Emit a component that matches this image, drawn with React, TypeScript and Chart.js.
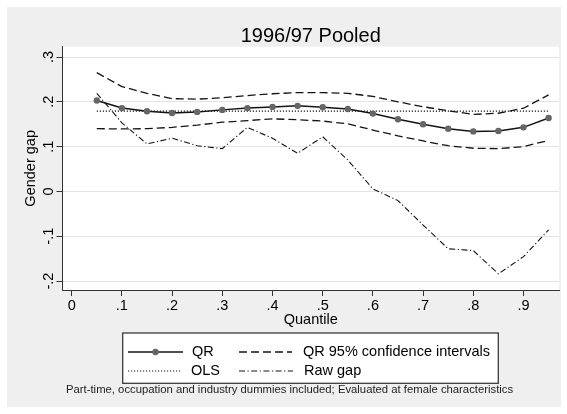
import React, { useEffect, useRef } from "react";
import { Chart, registerables } from "chart.js";

Chart.register(...registerables);

// ---- data ----
const quantiles = [0.05, 0.1, 0.15, 0.2, 0.25, 0.3, 0.35, 0.4, 0.45, 0.5, 0.55, 0.6, 0.65, 0.7, 0.75, 0.8, 0.85, 0.9, 0.95];
const qrGap = [0.203, 0.186, 0.179, 0.175, 0.1775, 0.182, 0.186, 0.1886, 0.191, 0.188, 0.184, 0.1737, 0.161, 0.15, 0.14, 0.134, 0.135, 0.143, 0.164];
const ciUpper = [0.265, 0.234, 0.219, 0.207, 0.206, 0.209, 0.214, 0.218, 0.2205, 0.2205, 0.219, 0.212, 0.2, 0.189, 0.18, 0.172, 0.1745, 0.1857, 0.2154];
const ciLower = [0.14, 0.1395, 0.14, 0.143, 0.148, 0.1545, 0.158, 0.162, 0.16, 0.157, 0.151, 0.137, 0.124, 0.1127, 0.102, 0.0964, 0.0955, 0.1, 0.114];
const olsGap = [0.179, 0.179, 0.179, 0.179, 0.179, 0.179, 0.179, 0.179, 0.179, 0.179, 0.179, 0.179, 0.179, 0.179, 0.179, 0.179, 0.179, 0.179, 0.179];
const rawGap = [0.219, 0.153, 0.106, 0.1187, 0.102, 0.0955, 0.143, 0.1187, 0.085, 0.122, 0.0703, 0.0056, -0.0205, -0.075, -0.128, -0.132, -0.184, -0.1455, -0.086];

const xTickValues = [0, 0.1, 0.2, 0.3, 0.4, 0.5, 0.6, 0.7, 0.8, 0.9];
const yTickValues = [-0.2, -0.1, 0, 0.1, 0.2, 0.3];

const titleText = "1996/97 Pooled";
const xTitle = "Quantile";
const yTitle = "Gender gap";
const noteText = "Part-time, occupation and industry dummies included; Evaluated at female characteristics";
const legendLabels = ["QR", "QR 95% confidence intervals", "OLS", "Raw gap"];

const FONT = "'Liberation Sans', Arial, Helvetica, sans-serif";
const LINE = "#141414";
const MARK = "#666666";
const CI_DASH = [8, 4];
const OLS_DASH = [1.2, 1.8];
const RAW_DASH = [6, 2.5, 1.2, 2.5];

const fmt = (v: number) => {
  if (Math.abs(v) < 1e-9) return "0";
  return v.toFixed(1).replace("0.", ".");
};

const pts = (ys: number[]) => quantiles.map((q, i) => ({ x: q, y: ys[i] }));

const decorPlugin = {
  id: "decor",
  beforeDraw(chart: any) {
    const { ctx, chartArea } = chart;
    ctx.save();
    ctx.fillStyle = "#ffffff";
    ctx.fillRect(0, 0, chart.width, chart.height);
    ctx.fillStyle = "#efefef";
    ctx.fillRect(7, 7, 554, 400);
    ctx.fillStyle = "#ffffff";
    ctx.fillRect(chartArea.left, chartArea.top, chartArea.right - chartArea.left, chartArea.bottom - chartArea.top);
    ctx.restore();
  },
  afterDraw(chart: any) {
    const { ctx, chartArea } = chart;
    const yScale = chart.scales.y;
    const cx = (chartArea.left + chartArea.right) / 2;
    ctx.save();
    ctx.fillStyle = "#000";

    // title
    ctx.font = `20px ${FONT}`;
    ctx.textAlign = "center";
    ctx.textBaseline = "middle";
    ctx.fillText(titleText, cx, 36);

    // y tick labels (rotated)
    ctx.font = `14.5px ${FONT}`;
    yScale.ticks.forEach((t: any) => {
      const py = yScale.getPixelForValue(t.value);
      ctx.save();
      ctx.translate(53, py);
      ctx.rotate(-Math.PI / 2);
      ctx.textAlign = "center";
      ctx.textBaseline = "alphabetic";
      ctx.fillText(fmt(t.value), 0, 0);
      ctx.restore();
    });

    // y title
    ctx.save();
    ctx.translate(35, (chartArea.top + chartArea.bottom) / 2);
    ctx.rotate(-Math.PI / 2);
    ctx.textAlign = "center";
    ctx.textBaseline = "alphabetic";
    ctx.fillText(yTitle, 0, 0);
    ctx.restore();

    // x title
    ctx.textAlign = "center";
    ctx.textBaseline = "middle";
    ctx.fillText(xTitle, cx, 320);

    // legend box
    const lx = 122.7, ly = 333, lw = 375.6, lh = 50.3;
    ctx.fillStyle = "#ffffff";
    ctx.fillRect(lx, ly, lw, lh);
    ctx.strokeStyle = "#3a3a3a";
    ctx.lineWidth = 1.3;
    ctx.setLineDash([]);
    ctx.strokeRect(lx, ly, lw, lh);

    const sample = (x1: number, x2: number, y: number, dash: number[], width: number) => {
      ctx.save();
      ctx.strokeStyle = LINE;
      ctx.lineWidth = width;
      ctx.setLineDash(dash);
      ctx.beginPath();
      ctx.moveTo(x1, y);
      ctx.lineTo(x2, y);
      ctx.stroke();
      ctx.restore();
    };
    const r1 = 352, r2 = 371;
    sample(128, 183, r1, [], 1.5);
    ctx.fillStyle = MARK;
    ctx.beginPath();
    ctx.arc(155.5, r1, 3.2, 0, Math.PI * 2);
    ctx.fill();
    sample(239, 292, r1, CI_DASH, 1.3);
    sample(128, 182, r2, OLS_DASH, 1.2);
    sample(239, 293, r2, RAW_DASH, 1.1);

    ctx.fillStyle = "#000";
    ctx.font = `14.5px ${FONT}`;
    ctx.textAlign = "left";
    ctx.textBaseline = "middle";
    ctx.fillText(legendLabels[0], 192, r1);
    ctx.fillText(legendLabels[1], 303, r1);
    ctx.fillText(legendLabels[2], 191, r2);
    ctx.fillText(legendLabels[3], 304, r2);

    // note
    ctx.fillStyle = "#222";
    ctx.font = `11.3px ${FONT}`;
    ctx.fillText(noteText, 66, 389.5);

    ctx.restore();
  },
};

export default function App() {
  const ref = useRef<HTMLCanvasElement | null>(null);

  useEffect(() => {
    if (!ref.current) return;
    const chart = new Chart(ref.current, {
      type: "line",
      data: {
        datasets: [
          {
            label: legendLabels[0],
            data: pts(qrGap),
            borderColor: LINE,
            borderWidth: 1.5,
            pointRadius: 3.2,
            pointBackgroundColor: MARK,
            pointBorderColor: MARK,
            pointBorderWidth: 0,
            tension: 0,
          },
          {
            label: legendLabels[1],
            data: pts(ciUpper),
            borderColor: LINE,
            borderWidth: 1.3,
            borderDash: CI_DASH,
            pointRadius: 0,
            tension: 0,
          },
          {
            label: legendLabels[1] + " (lower)",
            data: pts(ciLower),
            borderColor: LINE,
            borderWidth: 1.3,
            borderDash: CI_DASH,
            pointRadius: 0,
            tension: 0,
          },
          {
            label: legendLabels[2],
            data: pts(olsGap),
            borderColor: LINE,
            borderWidth: 1.2,
            borderDash: OLS_DASH,
            pointRadius: 0,
            tension: 0,
          },
          {
            label: legendLabels[3],
            data: pts(rawGap),
            borderColor: LINE,
            borderWidth: 1.1,
            borderDash: RAW_DASH,
            pointRadius: 0,
            tension: 0,
          },
        ],
      },
      options: {
        responsive: false,
        animation: false,
        devicePixelRatio: 1,
        layout: { padding: { left: 0, right: 8, top: 46.7, bottom: 0 } },
        plugins: {
          legend: { display: false },
          tooltip: { enabled: false },
          title: { display: false },
        },
        scales: {
          x: {
            type: "linear",
            min: -0.0183,
            max: 0.9707,
            afterBuildTicks: (s: any) => {
              s.ticks = xTickValues.map((v) => ({ value: v }));
            },
            afterFit: (s: any) => {
              s.height = 124;
            },
            ticks: {
              callback: (v: any) => fmt(Number(v)),
              font: { family: FONT, size: 14.5 },
              color: "#000",
              padding: 1,
              maxRotation: 0,
              autoSkip: false,
            },
            grid: {
              drawOnChartArea: false,
              drawTicks: true,
              tickLength: 6,
              tickColor: "#333",
              tickWidth: 1,
            },
            border: { display: true, color: "#333", width: 1 },
          },
          y: {
            type: "linear",
            min: -0.22,
            max: 0.323,
            afterBuildTicks: (s: any) => {
              s.ticks = yTickValues.map((v) => ({ value: v }));
            },
            afterFit: (s: any) => {
              s.width = 62.5;
            },
            ticks: { display: false },
            grid: {
              color: "#e3e3e3",
              lineWidth: 1,
              drawTicks: true,
              tickLength: 6,
              tickColor: "#333",
              tickWidth: 1,
            },
            border: { display: true, color: "#333", width: 1 },
          },
        },
      },
      plugins: [decorPlugin],
    } as any);
    return () => chart.destroy();
  }, []);

  return (
    <div style={{ position: "absolute", left: 0, top: 0, width: 567, height: 414 }}>
      <canvas ref={ref} width={567} height={414} style={{ width: 567, height: 414, display: "block" }} />
    </div>
  );
}
